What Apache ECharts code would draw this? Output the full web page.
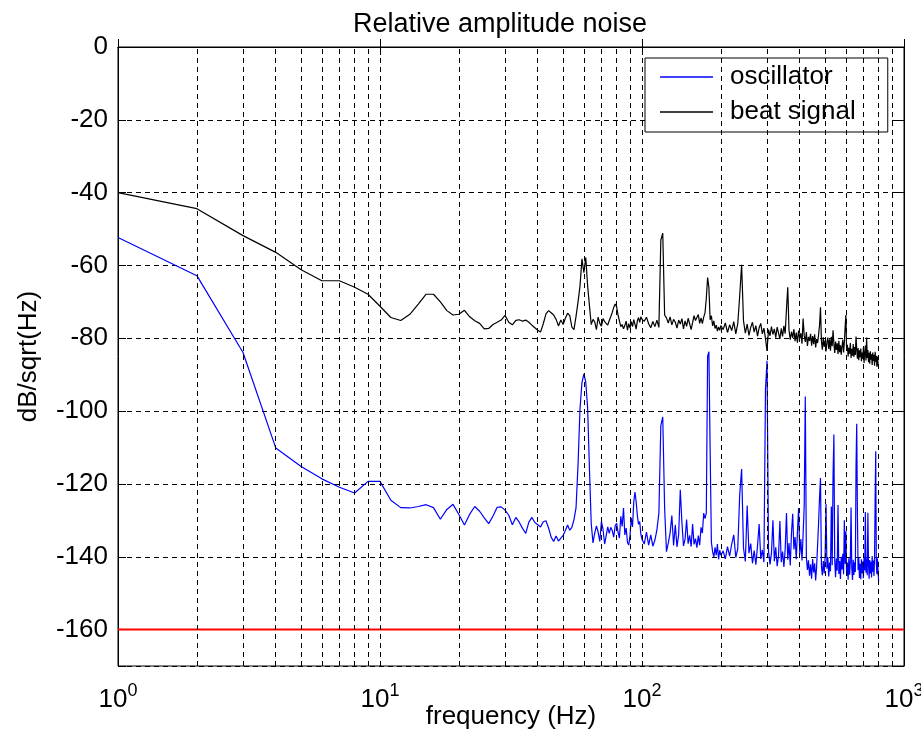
<!DOCTYPE html>
<html>
<head>
<meta charset="utf-8">
<title>Relative amplitude noise</title>
<script src="https://cdn.jsdelivr.net/npm/echarts@6/dist/echarts.min.js"></script>
<style>
  html, body { margin: 0; padding: 0; background: #fff; }
  #main { width: 921px; height: 734px; }
</style>
</head>
<body>
<div id="main"></div>
<script>
// FFT bins: 1 Hz up to 100 Hz, then coarser
function freqRange(start, end, step) {
  var out = [];
  for (var f = start; f <= end; f += step) out.push(f);
  return out;
}
var freqLow = freqRange(1, 100, 1);
var freqMid = freqRange(102, 200, 2);
var freqHigh = freqRange(204, 800, 4);

// oscillator (blue), dB/sqrt(Hz)
var oscLow = [
  -52.3, -62.8, -83.9, -110.1, -115.2, -118.6, -120.9, -122.5, -119.3, -119.3,
  -124.5, -126.5, -126.6, -126.2, -125.7, -126.5, -129.7, -127.0, -125.6, -128.4,
  -131.3, -128.3, -126.2, -127.5, -129.3, -130.9, -128.8, -126.4, -126.3, -127.2,
  -128.6, -131.2, -129.2, -130.5, -132.2, -133.6, -130.5, -129.2, -130.6, -131.2,
  -131.8, -130.4, -130.1, -132.1, -134.6, -135.8, -134.3, -135.7, -134.9, -134.1,
  -132.8, -131.3, -132.7, -131.9, -129.8, -126.6, -114.7, -99.2, -92.2, -89.8,
  -92.0, -99.0, -115.6, -130.8, -136.2, -133.5, -131.5, -133.2, -135.8, -130.3,
  -132.5, -136.5, -134.2, -131.8, -133.6, -131.9, -132.8, -134.6, -131.5, -130.8,
  -133.2, -134.9, -128.9, -131.7, -126.6, -134.0, -132.1, -136.0, -136.8, -134.2,
  -129.3, -131.8, -125.0, -122.2, -124.9, -128.7, -131.1, -130.3, -133.8, -135.2
];
var oscMid = [
  -136.5, -133.2, -136.8, -134.0, -137.1, -135.4, -132.6, -128.0, -104.0, -101.6,
  -126.6, -138.6, -136.2, -133.5, -128.7, -136.9, -131.2, -137.3, -133.9, -121.6,
  -130.5, -137.0, -135.2, -129.8, -136.4, -134.1, -137.2, -131.0, -136.6, -135.0,
  -137.5, -134.2, -136.8, -131.9, -133.5, -128.0, -129.5, -128.0, -85.0, -83.7,
  -110.6, -136.0, -138.6, -140.1, -137.4, -139.6, -136.5, -140.7, -138.2, -139.6
];
var oscHigh = [
  -138.4, -140.6, -137.2, -139.8, -136.5, -134.0, -140.2, -137.8, -123.0, -115.9,
  -137.6, -141.3, -125.9, -139.0, -136.4, -141.8, -138.3, -142.2, -137.0, -131.0,
  -140.6, -138.1, -141.5, -94.0, -86.2, -138.5, -142.1, -139.0, -130.0, -141.2,
  -137.4, -142.6, -139.7, -130.2, -141.5, -138.6, -142.8, -137.9, -128.0, -140.8,
  -136.2, -142.4, -133.5, -128.2, -138.0, -134.6, -140.7, -133.2, -126.6, -139.4,
  -135.1, -141.0, -134.0, -126.0, -96.0, -140.2, -143.6, -141.0, -145.2, -142.1,
  -146.0, -140.6, -144.3, -141.8, -146.5, -142.7, -143.0, -130.8, -123.7, -118.4,
  -142.5, -145.1, -141.2, -144.6, -139.8, -125.5, -143.3, -140.1, -145.4, -141.6,
  -144.0, -126.2, -142.3, -118.0, -106.4, -141.0, -145.6, -140.5, -143.8, -125.8,
  -144.7, -141.2, -146.1, -140.0, -143.5, -139.2, -144.8, -130.0, -142.0, -133.0,
  -145.3, -141.6, -146.3, -140.4, -144.9, -141.1, -126.5, -143.2, -146.4, -140.8,
  -145.0, -141.5, -144.2, -115.2, -103.5, -128.0, -143.6, -140.3, -145.8, -141.9,
  -146.2, -140.7, -144.5, -141.3, -145.9, -140.1, -143.7, -127.7, -144.4, -140.6,
  -145.1, -127.9, -142.0, -146.0, -140.9, -144.6, -141.4, -145.7, -139.8, -144.1,
  -141.0, -145.3, -140.2, -124.0, -111.0, -141.9, -144.8, -140.5, -143.9, -146.8
];

// beat signal (black)
var beatLow = [
  -40.0, -44.4, -51.8, -56.4, -61.2, -64.2, -64.2, -66.0, -67.9, -71.2,
  -74.3, -75.1, -73.4, -70.6, -67.9, -67.9, -70.0, -72.4, -73.6, -73.4,
  -72.3, -74.1, -75.2, -75.9, -77.4, -77.3, -76.2, -75.6, -75.0, -73.7,
  -75.6, -76.3, -75.1, -74.9, -75.3, -75.0, -75.6, -76.4, -77.1, -77.8,
  -78.3, -76.0, -73.3, -72.4, -73.0, -73.6, -74.8, -76.6, -75.0, -76.2,
  -74.5, -73.1, -73.8, -76.9, -77.6, -74.0, -70.0, -65.6, -58.2, -62.0,
  -57.8, -65.5, -71.0, -76.2, -74.8, -75.5, -77.6, -74.2, -75.9, -76.7,
  -74.6, -75.4, -74.9, -76.4, -75.1, -74.0, -72.9, -71.5, -70.6, -71.3,
  -73.6, -75.2, -76.8, -76.2, -77.4, -76.5, -75.3, -77.8, -76.0, -77.2,
  -75.4, -76.8, -74.9, -76.1, -77.5, -75.2, -74.3, -75.6, -74.1, -74.8
];
var beatMid = [
  -75.3, -74.2, -76.0, -77.1, -75.4, -76.8, -75.0, -77.0, -53.0, -51.1,
  -73.6, -74.4, -75.8, -74.1, -76.3, -74.8, -75.6, -77.2, -75.0, -76.1,
  -74.6, -77.4, -75.2, -76.7, -74.5, -76.0, -77.6, -75.7, -73.8, -75.1,
  -74.3, -73.5, -75.9, -74.4, -76.0, -74.2, -73.0, -69.0, -63.3, -66.0,
  -74.9, -73.8, -76.6, -75.2, -77.3, -76.4, -78.0, -76.9, -77.8, -76.5
];
var beatHigh = [
  -77.6, -75.8, -78.4, -76.3, -77.9, -75.4, -78.8, -76.0, -68.3, -59.8,
  -75.2, -78.6, -76.1, -79.2, -77.0, -75.6, -78.3, -76.5, -79.4, -77.1,
  -75.9, -78.8, -77.2, -80.0, -83.5, -77.6, -79.3, -76.8, -78.9, -77.4,
  -79.8, -76.9, -78.6, -80.2, -77.3, -79.5, -76.6, -78.7, -72.0, -66.0,
  -77.8, -80.4, -78.2, -79.9, -77.5, -80.8, -78.4, -81.2, -77.9, -80.1,
  -78.6, -81.5, -74.6, -79.2, -81.0, -78.3, -82.1, -79.6, -80.7, -78.8,
  -82.0, -79.4, -81.6, -78.9, -82.5, -80.2, -81.3, -79.0, -76.5, -71.5,
  -80.8, -83.1, -79.7, -82.4, -80.6, -83.6, -81.0, -79.8, -82.9, -80.3,
  -83.4, -79.6, -82.2, -77.8, -81.5, -84.0, -80.9, -83.2, -81.4, -84.3,
  -80.7, -83.8, -81.9, -84.5, -82.2, -80.4, -83.9, -81.1, -77.0, -73.6,
  -83.5, -81.8, -85.0, -82.6, -84.2, -81.3, -85.4, -82.9, -84.8, -81.6,
  -85.1, -82.4, -84.6, -79.5, -83.0, -85.6, -82.7, -86.0, -83.3, -85.2,
  -82.8, -86.3, -83.9, -85.7, -82.5, -86.8, -84.1, -82.0, -86.1, -79.8,
  -85.4, -83.2, -86.6, -84.0, -87.0, -83.6, -85.9, -84.4, -87.3, -83.9,
  -86.2, -84.5, -87.5, -83.7, -86.4, -84.8, -87.8, -85.0, -86.9, -88.0
];

var limitLevel = -160;
var legendNames = ['oscillator', 'beat signal'];

function pairs(freqs, vals) {
  return freqs.map(function (f, i) { return [f, vals[i]]; });
}
var oscData = pairs(freqLow, oscLow).concat(pairs(freqMid, oscMid), pairs(freqHigh, oscHigh));
var beatData = pairs(freqLow, beatLow).concat(pairs(freqMid, beatMid), pairs(freqHigh, beatHigh));

// dashed decade grid 2..9 x 10^k
var gridLines = [];
[1, 10, 100].forEach(function (d) {
  for (var m = 2; m <= 10; m++) {
    if (d * m < 1000) gridLines.push({ xAxis: d * m });
  }
});

var font = 'Liberation Sans, Arial, sans-serif';
var chart = echarts.init(document.getElementById('main'));

var option = {
  animation: false,
  backgroundColor: '#fff',
  textStyle: { fontFamily: font, color: '#000' },
  title: {
    text: 'Relative amplitude noise',
    left: 500,
    top: 11,
    padding: 0,
    textAlign: 'center',
    textStyle: { fontFamily: font, fontSize: 27, fontWeight: 'normal', color: '#000' }
  },
  legend: {
    data: legendNames,
    orient: 'vertical',
    left: 645,
    top: 58,
    padding: [6, 32, 7, 15],
    icon: 'rect',
    itemWidth: 53,
    itemHeight: 1.5,
    itemGap: 9,
    backgroundColor: '#fff',
    borderColor: '#000',
    borderWidth: 1,
    borderRadius: 0,
    textStyle: { fontFamily: font, fontSize: 26, color: '#000', lineHeight: 26, padding: [0, 0, 0, 12] }
  },
  grid: {
    left: 118, right: 17, top: 47, bottom: 68,
    containLabel: false,
    outerBoundsMode: 'none',
    show: true, borderColor: '#000', borderWidth: 1
  },
  xAxis: [{
    type: 'log', logBase: 10, min: 1, max: 1000,
    axisLine: { show: true, lineStyle: { color: '#000', width: 1 } },
    axisTick: { show: true, inside: true, length: 8, lineStyle: { color: '#000' } },
    axisLabel: {
      margin: 21,
      formatter: function (v) { return '{b|10}{s|' + Math.round(Math.log10(v)) + '}'; },
      rich: {
        b: { fontFamily: font, fontSize: 26, lineHeight: 26, color: '#000', verticalAlign: 'bottom' },
        s: { fontFamily: font, fontSize: 18, lineHeight: 18, color: '#000', verticalAlign: 'bottom', padding: [0, 0, 13, 0] }
      }
    },
    splitLine: { show: false },
    name: 'frequency (Hz)',
    nameLocation: 'middle',
    nameMoveOverlap: false,
    nameGap: 38,
    nameTextStyle: { fontFamily: font, fontSize: 26, color: '#000' }
  }, {
    type: 'log', logBase: 10, min: 1, max: 1000, position: 'top',
    axisLine: { show: true, lineStyle: { color: '#000' } },
    axisTick: { show: true, inside: true, length: 8, lineStyle: { color: '#000' } },
    axisLabel: { show: false },
    splitLine: { show: false }
  }],
  yAxis: [{
    type: 'value', min: -170, max: 0, splitNumber: 8,
    axisLine: { show: true, lineStyle: { color: '#000', width: 1 } },
    axisTick: { show: true, inside: true, length: 8, lineStyle: { color: '#000' } },
    axisLabel: {
      margin: 10, fontFamily: font, fontSize: 26, color: '#000',
      formatter: function (v) { return v % 20 === 0 ? String(v) : ''; }
    },
    splitLine: { show: true, lineStyle: { color: '#000', type: [5, 4], width: 1 } },
    name: 'dB/sqrt(Hz)',
    nameLocation: 'middle',
    nameMoveOverlap: false,
    nameGap: 76,
    nameTextStyle: { fontFamily: font, fontSize: 26, color: '#000' }
  }, {
    type: 'value', min: -170, max: 0, splitNumber: 8, position: 'right',
    axisLine: { show: true, lineStyle: { color: '#000' } },
    axisTick: { show: true, inside: true, length: 8, lineStyle: { color: '#000' } },
    axisLabel: { show: false },
    splitLine: { show: false }
  }],
  series: [{
    name: 'limit',
    type: 'line',
    data: [[1, limitLevel], [1000, limitLevel]],
    symbol: 'none',
    silent: true,
    z: 1,
    lineStyle: { color: '#ff0000', width: 2 },
    markLine: {
      silent: true,
      symbol: 'none',
      label: { show: false },
      lineStyle: { color: '#000', type: [5, 4], width: 1 },
      data: gridLines
    }
  }, {
    name: 'oscillator',
    type: 'line',
    data: oscData,
    symbol: 'none',
    showSymbol: false,
    z: 3,
    color: '#0000ff',
    lineStyle: { color: '#0000ff', width: 1.2 }
  }, {
    name: 'beat signal',
    type: 'line',
    data: beatData,
    symbol: 'none',
    showSymbol: false,
    z: 3,
    color: '#000',
    lineStyle: { color: '#000', width: 1.2 }
  }]
};

chart.setOption(option);
</script>
</body>
</html>
